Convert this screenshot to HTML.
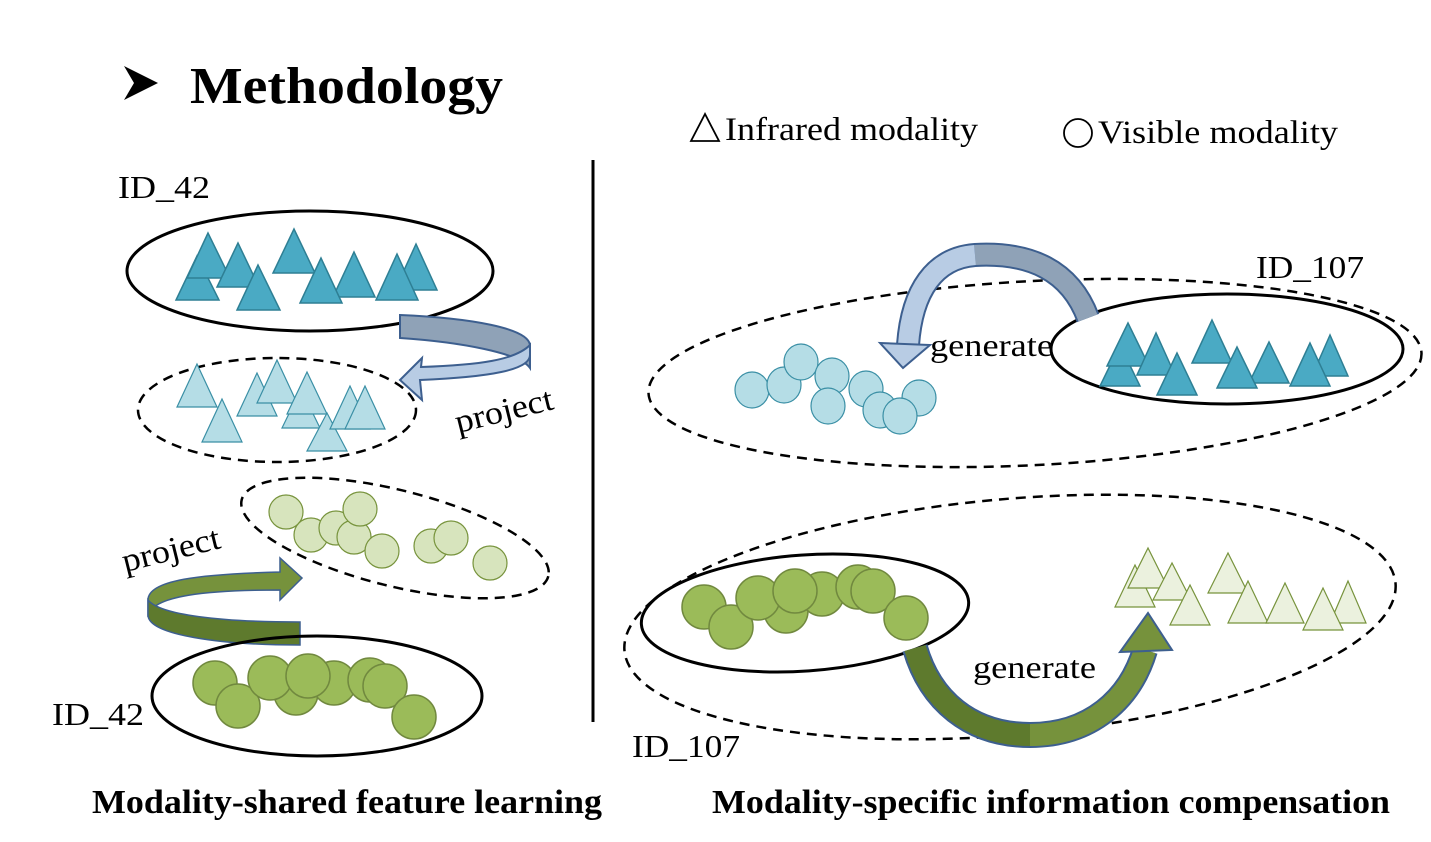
<!DOCTYPE html>
<html><head><meta charset="utf-8"><style>
html,body{margin:0;padding:0;background:#fff;}
svg{display:block;font-family:"Liberation Serif",serif;}
</style></head><body>
<svg width="1431" height="842" viewBox="0 0 1431 842" xmlns="http://www.w3.org/2000/svg">
<!-- Title -->
<polygon points="124,66 158,83 124,100 134,83" fill="#000"/>
<text x="190" y="103" font-size="52" font-weight="bold" textLength="313" lengthAdjust="spacingAndGlyphs">Methodology</text>
<polygon points="705,114 691,141 719,141" fill="none" stroke="#000" stroke-width="1.8"/>
<text x="725" y="140" font-size="33" textLength="253" lengthAdjust="spacingAndGlyphs">Infrared modality</text>
<circle cx="1078" cy="133" r="14" fill="none" stroke="#000" stroke-width="1.8"/>
<text x="1098" y="143" font-size="33" textLength="240" lengthAdjust="spacingAndGlyphs">Visible modality</text>
<line x1="593" y1="160" x2="593" y2="722" stroke="#000" stroke-width="3"/>

<!-- Left top -->
<text x="118" y="198" font-size="32" textLength="92" lengthAdjust="spacingAndGlyphs">ID_42</text>
<ellipse cx="310" cy="271" rx="183" ry="60" fill="none" stroke="#000" stroke-width="3"/>
<g fill="#4aaac4" stroke="#2e7f94" stroke-width="1.5">
<polygon points="197,256 176,300 219,300"/>
<polygon points="208,233 187,278 230,278"/>
<polygon points="238,243 217,287 259,287"/>
<polygon points="258,265 237,310 280,310"/>
<polygon points="294,229 273,273 315,273"/>
<polygon points="416,244 395,290 437,290"/>
<polygon points="354,252 333,297 375,297"/>
<polygon points="321,258 300,303 342,303"/>
<polygon points="397,254 376,300 418,300"/>
</g>
<ellipse cx="277" cy="410" rx="139" ry="52" fill="none" stroke="#000" stroke-width="2.5" stroke-dasharray="10,7"/>
<g fill="#b5dde6" stroke="#3a8fa5" stroke-width="1.2">
<polygon points="197,364 177,407 217,407"/>
<polygon points="222,399 202,442 242,442"/>
<polygon points="257,373 237,416 277,416"/>
<polygon points="277,360 257,403 297,403"/>
<polygon points="301,389 282,428 320,428"/>
<polygon points="307,372 287,414 327,414"/>
<polygon points="327,413 307,451 347,451"/>
<polygon points="350,386 330,429 370,429"/>
<polygon points="365,386 345,429 385,429"/>
</g>
<!-- project arrow top -->
<path d="M400,315 C470,318 528,328 530,345 L530,368 C520,353 460,342 400,338 Z" fill="#8fa2b7" stroke="#3d5f8f" stroke-width="2"/>
<path d="M530,355 C530,370 490,377 420,380 L422,400 L400,380 L422,358 L421,367 C480,365 515,360 530,345 Z" fill="#b8cce4" stroke="#3d5f8f" stroke-width="2"/>
<text x="458" y="433" font-size="33" textLength="100" lengthAdjust="spacingAndGlyphs" transform="rotate(-14 458 433)">project</text>

<!-- Left bottom -->
<ellipse cx="395" cy="538" rx="158" ry="48" transform="rotate(14 395 538)" fill="none" stroke="#000" stroke-width="2.5" stroke-dasharray="10,7"/>
<g fill="#d7e4bd" stroke="#77933c" stroke-width="1.2">
<circle cx="286" cy="512" r="17"/><circle cx="311" cy="535" r="17"/><circle cx="336" cy="528" r="17"/>
<circle cx="354" cy="537" r="17"/><circle cx="360" cy="509" r="17"/><circle cx="382" cy="551" r="17"/>
<circle cx="431" cy="546" r="17"/><circle cx="451" cy="538" r="17"/><circle cx="490" cy="563" r="17"/>
</g>
<text x="125" y="572" font-size="33" textLength="100" lengthAdjust="spacingAndGlyphs" transform="rotate(-14 125 572)">project</text>
<path d="M148,600 C148,580 200,574 280,572 L280,558 L302,578 L280,600 L280,590 C210,590 150,595 148,617 Z" fill="#76923c" stroke="#3d5f8f" stroke-width="1.5"/>
<path d="M300,622 L300,645 C220,645 148,635 148,615 L148,600 C160,615 220,622 300,622 Z" fill="#5e7a2d" stroke="#3d5f8f" stroke-width="1.5"/>
<ellipse cx="317" cy="696" rx="165" ry="60" fill="none" stroke="#000" stroke-width="3"/>
<g fill="#9bbb59" stroke="#71893f" stroke-width="1.5">
<circle cx="215" cy="683" r="22"/><circle cx="238" cy="706" r="22"/><circle cx="296" cy="693" r="22"/>
<circle cx="270" cy="678" r="22"/><circle cx="334" cy="683" r="22"/><circle cx="308" cy="676" r="22"/>
<circle cx="370" cy="680" r="22"/><circle cx="385" cy="686" r="22"/><circle cx="414" cy="717" r="22"/>
</g>
<text x="52" y="725" font-size="32" textLength="92" lengthAdjust="spacingAndGlyphs">ID_42</text>

<!-- Right top -->
<text x="1256" y="278" font-size="32" textLength="108" lengthAdjust="spacingAndGlyphs">ID_107</text>
<ellipse cx="1035" cy="373" rx="387" ry="92" transform="rotate(-3 1035 373)" fill="none" stroke="#000" stroke-width="2.5" stroke-dasharray="10,7"/>
<ellipse cx="1227" cy="349" rx="176" ry="55" fill="none" stroke="#000" stroke-width="3"/>
<g fill="#4aaac4" stroke="#2e7f94" stroke-width="1.5">
<polygon points="1120,345 1100,386 1140,386"/>
<polygon points="1128,323 1107,366 1149,366"/>
<polygon points="1156,333 1137,375 1175,375"/>
<polygon points="1177,353 1157,395 1197,395"/>
<polygon points="1212,320 1192,363 1232,363"/>
<polygon points="1330,335 1312,376 1348,376"/>
<polygon points="1269,342 1249,383 1289,383"/>
<polygon points="1237,347 1217,388 1257,388"/>
<polygon points="1310,343 1290,386 1330,386"/>
</g>
<g fill="#b5dde6" stroke="#3a8fa5" stroke-width="1.2">
<ellipse cx="752" cy="390" rx="17" ry="18"/><ellipse cx="784" cy="385" rx="17" ry="18"/>
<ellipse cx="801" cy="362" rx="17" ry="18"/><ellipse cx="832" cy="376" rx="17" ry="18"/>
<ellipse cx="828" cy="406" rx="17" ry="18"/><ellipse cx="866" cy="389" rx="17" ry="18"/>
<ellipse cx="880" cy="410" rx="17" ry="18"/><ellipse cx="919" cy="398" rx="17" ry="18"/>
<ellipse cx="900" cy="416" rx="17" ry="18"/>
</g>
<!-- generate arrow top -->
<path d="M1088,318 C1070,270 1030,252 975,255 C935,258 912,290 908,345" fill="none" stroke="#3d5f8f" stroke-width="24"/>
<path d="M1088,318 C1070,270 1030,252 975,255" fill="none" stroke="#8fa2b7" stroke-width="20"/>
<path d="M975,255 C935,258 912,290 908,345" fill="none" stroke="#b8cce4" stroke-width="20"/>
<polygon points="880,343 930,345 903,368" fill="#b8cce4" stroke="#3d5f8f" stroke-width="2"/>
<text x="930" y="356" font-size="32" textLength="123" lengthAdjust="spacingAndGlyphs">generate</text>

<!-- Right bottom -->
<ellipse cx="1010" cy="617" rx="387" ry="118" transform="rotate(-5 1010 617)" fill="none" stroke="#000" stroke-width="2.5" stroke-dasharray="10,7"/>
<ellipse cx="805" cy="613" rx="164" ry="58" transform="rotate(-4 805 613)" fill="none" stroke="#000" stroke-width="3"/>
<g fill="#9bbb59" stroke="#71893f" stroke-width="1.5">
<circle cx="704" cy="607" r="22"/><circle cx="731" cy="627" r="22"/><circle cx="786" cy="611" r="22"/>
<circle cx="758" cy="598" r="22"/><circle cx="822" cy="594" r="22"/><circle cx="795" cy="591" r="22"/>
<circle cx="858" cy="587" r="22"/><circle cx="873" cy="591" r="22"/><circle cx="906" cy="618" r="22"/>
</g>
<g fill="#ebf1de" stroke="#77933c" stroke-width="1.2">
<polygon points="1135,565 1115,607 1155,607"/>
<polygon points="1148,548 1128,588 1168,588"/>
<polygon points="1172,563 1153,600 1191,600"/>
<polygon points="1190,585 1170,625 1210,625"/>
<polygon points="1228,553 1208,593 1248,593"/>
<polygon points="1248,581 1228,623 1268,623"/>
<polygon points="1285,583 1266,623 1304,623"/>
<polygon points="1348,581 1330,623 1366,623"/>
<polygon points="1323,588 1303,630 1343,630"/>
</g>
<!-- generate arrow bottom -->
<path d="M915,648 C930,700 970,735 1030,735 C1090,735 1130,700 1145,650" fill="none" stroke="#3d5f8f" stroke-width="26"/>
<path d="M915,648 C930,700 970,735 1030,735" fill="none" stroke="#5e7a2d" stroke-width="22"/>
<path d="M1030,735 C1090,735 1130,700 1145,650" fill="none" stroke="#76923c" stroke-width="22"/>
<polygon points="1120,652 1172,650 1148,613" fill="#76923c" stroke="#3d5f8f" stroke-width="2"/>
<text x="973" y="678" font-size="32" textLength="123" lengthAdjust="spacingAndGlyphs">generate</text>
<text x="632" y="757" font-size="32" textLength="108" lengthAdjust="spacingAndGlyphs">ID_107</text>

<text x="92" y="813" font-size="34" font-weight="bold" textLength="510" lengthAdjust="spacingAndGlyphs">Modality-shared feature learning</text>
<text x="712" y="813" font-size="34" font-weight="bold" textLength="678" lengthAdjust="spacingAndGlyphs">Modality-specific information compensation</text>
</svg>
</body></html>
